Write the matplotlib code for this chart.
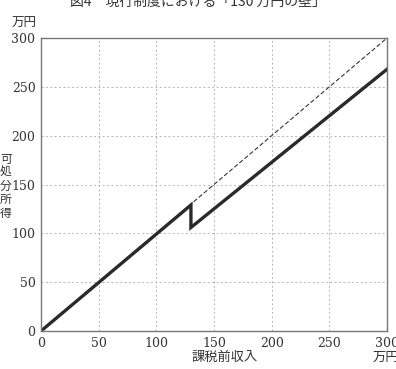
import numpy as np
import matplotlib
matplotlib.use("Agg")
import matplotlib.pyplot as plt

plt.rcParams['font.family'] = ['DejaVu Serif', 'Noto Sans CJK JP']

# income (万円) vs disposable income (万円)
income = [0, 130, 130, 300]
disposable = [0, 129, 106, 268]
ref_x = [0, 300]
ref_y = [0, 300]
ticks = [0, 50, 100, 150, 200, 250, 300]

fig = plt.figure(figsize=(3.96, 3.69), dpi=100)
ax = fig.add_axes([41/396, 38/369, 346/396, 293/369])

ax.plot(ref_x, ref_y, color='#333333', lw=0.8, ls=(0, (4, 2)))
ax.plot(income, disposable, color='#2a2a2a', lw=2.4, solid_joinstyle='miter')

ax.set_xlim(0, 300)
ax.set_ylim(0, 300)
ax.set_xticks(ticks)
ax.set_yticks(ticks)
ax.tick_params(length=0, labelsize=9, colors='#333333', pad=4)
ax.grid(True, color='#b5b5b5', ls=(0, (2, 2.5)), lw=0.7)
for s in ax.spines.values():
    s.set_color('#777777')
    s.set_linewidth(1.0)

fig.text(0.5, 1 - 2/369, '図4　現行制度における「130 万円の壁」', ha='center', va='center',
         fontsize=10, color='#333333', family=['Noto Sans CJK JP'])
fig.text(24/396, 1 - 23/369, '万円', ha='center', va='center', fontsize=9,
         color='#333333', family=['Noto Sans CJK JP'])
fig.text(6/396, 1 - 186/369, '可\n処\n分\n所\n得', ha='center', va='center', fontsize=8.5,
         color='#333333', linespacing=1.05, family=['Noto Sans CJK JP'])
fig.text(225/396, 1 - 357/369, '課税前収入', ha='center', va='center', fontsize=9.5,
         color='#333333', family=['Noto Sans CJK JP'])
fig.text(373/396, 1 - 357/369, '万円', ha='left', va='center', fontsize=9.5,
         color='#333333', family=['Noto Sans CJK JP'])

fig.savefig('out.png', dpi=100)
